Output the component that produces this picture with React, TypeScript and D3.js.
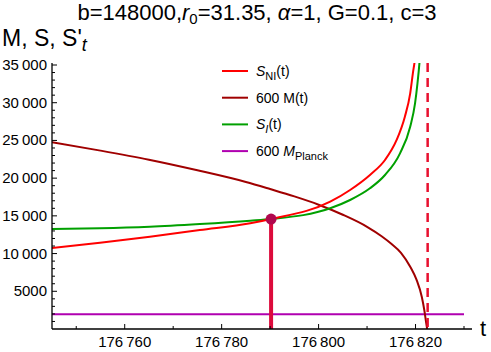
import React from 'react';
import * as d3 from 'd3';

const width = 491;
const height = 352;

// plot box (Mathematica style axes, ticks point inward)
const left = 52;
const right = 464;
const bottom = 329;
const top = 65;

// DATA ===========================================
const tDomain = [176745, 176830];
const yDomain = [0, 35000];

const xMajorTicks = [176760, 176780, 176800, 176820];
const xMinorTicks = [176750, 176770, 176790, 176810, 176830];
const yMajorTicks = [5000, 10000, 15000, 20000, 25000, 30000, 35000];

// S_NI(t)
const tNI = [176745, 176754.9, 176765.2, 176775.5, 176785.9, 176790.2, 176802.4, 176806.5, 176810.6, 176813.7, 176816.1, 176817.8, 176818.9, 176819.45, 176819.85, 176820.1];
const sNI = [10740, 11440, 12240, 13120, 14010, 14580, 16880, 18430, 20420, 22400, 25060, 28150, 31250, 33900, 35600, 37000];

// 600 M(t)
const tM = [176745, 176755, 176765, 176775, 176785, 176790, 176795, 176800, 176805, 176810, 176813, 176815, 176817, 176819, 176820.2, 176821.3, 176821.8, 176822.2, 176822.4];
const m600 = [24750, 23650, 22450, 21050, 19500, 18560, 17580, 16480, 15150, 13550, 12300, 11300, 10100, 8150, 6550, 4250, 2550, 800, 0];

// S_I(t)
const tI = [176745, 176754.9, 176765.2, 176775.5, 176785.9, 176790.2, 176802.4, 176806.5, 176810.6, 176813.7, 176816.8, 176818.9, 176819.9, 176820.4, 176820.8, 176821.0];
const sI = [13260, 13350, 13560, 13920, 14360, 14580, 16000, 17100, 18650, 20420, 23290, 26820, 29920, 32570, 35220, 37000];

// 600 M_Planck
const planck600 = 1960;

// marked point + singularity
const stemT = 176790.2;
const stemValue = 14580;
const singularT = 176822.5;

const legendItems = [
  { key: 'ni', color: '#ff0000' },
  { key: 'm', color: '#a00000' },
  { key: 'i', color: '#00a000' },
  { key: 'p', color: '#b000b0' },
];

const font = '"Liberation Sans", Arial, sans-serif';

const fmt = (n: number) => {
  const s = String(n);
  return n >= 10000 ? s.slice(0, s.length - 3) + '\u2009' + s.slice(-3) : s;
};

const App = () => {
  const xScale = d3.scaleLinear().domain(tDomain).range([left, right]);
  const yScale = d3.scaleLinear().domain(yDomain).range([bottom, top]);

  const line = d3
    .line<[number, number]>()
    .x(d => xScale(d[0]))
    .y(d => yScale(d[1]))
    .curve(d3.curveMonotoneX);

  const series = [
    { color: '#a00000', pts: tM.map((t, i) => [t, m600[i]] as [number, number]) },
    { color: '#00a000', pts: tI.map((t, i) => [t, sI[i]] as [number, number]) },
    { color: '#ff0000', pts: tNI.map((t, i) => [t, sNI[i]] as [number, number]) },
  ];

  const yMinor = d3.range(1000, 35001, 1000).filter(v => v % 5000 !== 0);

  return (
    <svg width={width} height={height} style={{ position: 'absolute', left: 0, top: 0, background: '#fff' }} fontFamily={font}>
      <defs>
        <clipPath id="plot">
          <rect x={left} y={top - 2} width={right - left + 8} height={bottom - top + 2} />
        </clipPath>
      </defs>

      {/* title */}
      <text x={257} y={20} fontSize={22} textAnchor="middle">
        b=148000,<tspan fontStyle="italic">r</tspan>
        <tspan fontSize={15} dy={4}>0</tspan>
        <tspan dy={-4}>=31.35, </tspan>
        <tspan fontStyle="italic">α</tspan>=1, G=0.1, c=3
      </text>

      {/* axis labels */}
      <text x={2} y={46} fontSize={23}>
        M, S, S'<tspan fontStyle="italic" fontSize={18} dy={5}>t</tspan>
      </text>
      <text x={480} y={336} fontSize={22}>t</text>

      {/* purple planck line */}
      <line x1={xScale(tDomain[0])} x2={xScale(tDomain[1])} y1={yScale(planck600)} y2={yScale(planck600)} stroke="#b000b0" strokeWidth={2} />

      {/* curves */}
      <g clipPath="url(#plot)">
        {series.map(s => (
          <path key={s.color} d={line(s.pts) || ''} fill="none" stroke={s.color} strokeWidth={2} />
        ))}
      </g>

      {/* singularity */}
      <line x1={xScale(singularT)} x2={xScale(singularT)} y1={top - 2} y2={bottom} stroke="#e8102e" strokeWidth={2.5} strokeDasharray="9,6" />

      {/* stem */}
      <line x1={xScale(stemT)} x2={xScale(stemT)} y1={bottom} y2={yScale(stemValue)} stroke="#dc0a3c" strokeWidth={4} />
      <circle cx={xScale(stemT)} cy={yScale(stemValue)} r={5.5} fill="#b0084e" />

      {/* axes */}
      <line x1={left} x2={472} y1={bottom} y2={bottom} stroke="#000" strokeWidth={1.3} />
      <line x1={left} x2={left} y1={bottom} y2={top - 2} stroke="#000" strokeWidth={1.3} />

      {xMajorTicks.map(t => (
        <g key={t}>
          <line x1={xScale(t)} x2={xScale(t)} y1={bottom} y2={bottom - 5} stroke="#000" />
          <text x={xScale(t)} y={347} fontSize={15} textAnchor="middle">{fmt(t)}</text>
        </g>
      ))}
      {xMinorTicks.map(t => (
        <line key={t} x1={xScale(t)} x2={xScale(t)} y1={bottom} y2={bottom - 3} stroke="#000" />
      ))}
      {yMajorTicks.map(v => (
        <g key={v}>
          <line x1={left} x2={left + 5} y1={yScale(v)} y2={yScale(v)} stroke="#000" />
          <text x={47} y={yScale(v) + 5} fontSize={15} textAnchor="end">{fmt(v)}</text>
        </g>
      ))}
      {yMinor.map(v => (
        <line key={v} x1={left} x2={left + 3} y1={yScale(v)} y2={yScale(v)} stroke="#000" />
      ))}

      {/* legend */}
      {legendItems.map((d, i) => {
        const ly = 71 + i * 26.7;
        return (
          <g key={d.key}>
            <line x1={222} x2={248} y1={ly} y2={ly} stroke={d.color} strokeWidth={2} />
            <text x={256} y={ly + 5} fontSize={14}>
              {d.key === 'ni' && (<><tspan fontStyle="italic">S</tspan><tspan fontSize={11} dy={4}>NI</tspan><tspan dy={-4}>(t)</tspan></>)}
              {d.key === 'm' && '600 M(t)'}
              {d.key === 'i' && (<><tspan fontStyle="italic">S</tspan><tspan fontStyle="italic" fontSize={11} dy={4}>I</tspan><tspan dy={-4}>(t)</tspan></>)}
              {d.key === 'p' && (<>600 <tspan fontStyle="italic">M</tspan><tspan fontSize={11} dy={4}>Planck</tspan></>)}
            </text>
          </g>
        );
      })}
    </svg>
  );
};

export default App;
